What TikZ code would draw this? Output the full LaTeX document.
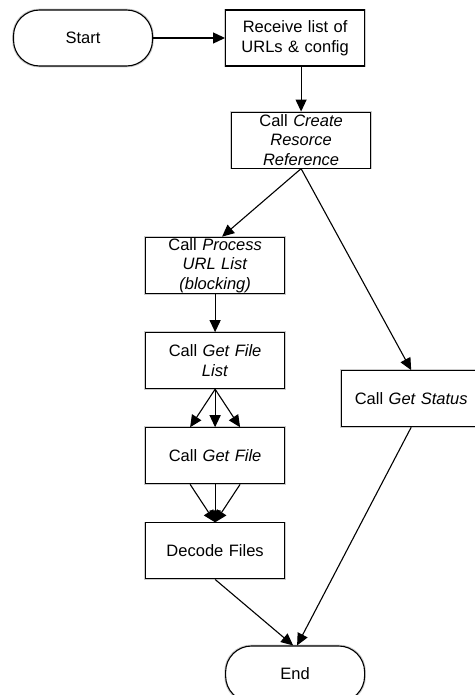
\documentclass[tikz,border=0pt]{standalone}
\usepackage{fontspec}
\setmainfont{Liberation Sans}
\usetikzlibrary{arrows.meta,positioning,backgrounds}

\tikzset{
  stepbox/.style={draw, line width=1.1pt, fill=white, minimum width=139pt, minimum height=56pt,
    text width=135pt, align=center, inner sep=1pt, font=\fontsize{16.5}{19.5}\selectfont},
  termbox/.style={stepbox, rounded corners=26pt},
  boxshade/.style={fill=black!35, draw=black!20, line width=1.5pt},
  flow/.style={line width=1.1pt, -{Triangle[length=12pt,width=11pt]}}
}

\begin{document}
\begin{tikzpicture}[node distance=38pt]
  \useasboundingbox (0pt,0pt) rectangle (474pt,-695pt);
  \node[termbox] (start) at (83pt,-38pt) {Start};
  \node[stepbox, right=72pt of start] (receive) {Receive list of\\URLs \& config};
  \node[stepbox, below=45pt of receive, xshift=6pt] (create) {Call \textit{Create}\\\textit{Resorce}\\\textit{Reference}};
  \node[stepbox, below=68pt of create, xshift=-86pt] (process) {Call \textit{Process}\\\textit{URL List}\\\textit{(blocking)}};
  \node[stepbox, below=of process] (filelist) {Call \textit{Get File}\\\textit{List}};
  \node[stepbox, below=of filelist] (getfile) {Call \textit{Get File}};
  \node[stepbox, below=of getfile] (decode) {Decode Files};
  \node[stepbox, right=56pt of filelist, yshift=-38pt] (status) {Call \textit{Get Status}};
  \node[termbox, below=66pt of decode, xshift=80pt] (end) {End};

  % shadows
  \begin{scope}[on background layer, shift={(2pt,-5pt)}]
    \foreach \n in {receive,create,process,filelist,getfile,decode,status}
      \fill[boxshade] (\n.south west) rectangle (\n.north east);
    \foreach \n in {start,end}
      \fill[boxshade, rounded corners=26pt] (\n.south west) rectangle (\n.north east);
  \end{scope}

  \draw[flow] (start) -- (receive);
  \draw[flow] (receive.south -| create.north) -- (create.north);
  \draw[flow] (create.south) -- ([xshift=7pt]process.north);
  \draw[flow] (create.south) -- (status.north);
  \draw[flow] (process) -- (filelist);
  \foreach \dx in {-25pt,0pt,25pt}
    \draw[flow] (filelist.south) -- ([xshift=\dx]getfile.north);
  \foreach \dx in {-25pt,0pt,25pt}
    \draw[flow] ([xshift=\dx]getfile.south) -- (decode.north);
  \draw[flow] (decode.south) -- ([xshift=-2pt]end.north);
  \draw[flow] (status.south) -- ([xshift=2pt]end.north);
\end{tikzpicture}
\end{document}
